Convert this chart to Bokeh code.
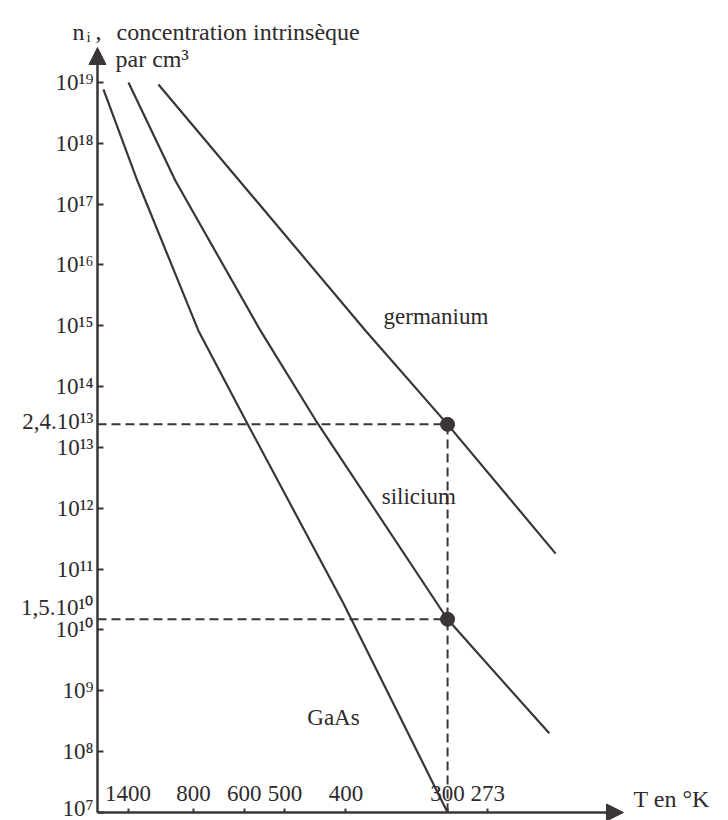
import math
from bokeh.plotting import figure
from bokeh.models import (LinearAxis, LogAxis, FixedTicker, CustomJSTickFormatter, Range1d,
                          Arrow, NormalHead, Label)
from bokeh.embed import file_html
from bokeh.resources import INLINE
from bokeh.core.properties import value

FONT = "Liberation Serif"
INK = "#3b3538"
TXT = "#2e2a2c"

# ---- data ----
T_ticks = [1400, 800, 600, 500, 400, 300, 273]           # x tick labels, K
n_ticks = [1e7, 1e8, 1e9, 1e10, 1e11, 1e12, 1e13, 1e14, 1e15, 1e16, 1e17, 1e18, 1e19]
marked_T = 300
marked_n = [2.4e13, 1.5e10]
marked_labels = ["2,4.10¹³", "1,5.10¹⁰"]

ge_T = [1038, 376, 300, 237]
ge_n = [9.3e18, 8.4e14, 2.4e13, 1.8e11]
si_T = [1393, 906, 556, 444, 300, 240]
si_n = [1.0e19, 2.4e17, 8.4e14, 2.8e13, 1.5e10, 2.0e8]
gaas_T = [1950, 1263, 775, 596, 403, 300]
gaas_n = [7.7e18, 2.4e17, 8.4e14, 2.8e13, 2.7e10, 1.0e7]

curve_names = ["germanium", "silicium", "GaAs"]
name_T = [356, 358, 458]
name_n = [1.4e15, 1.55e12, 3.6e8]

# x axis is 1000/T
inv = lambda ts: [1000.0 / t for t in ts]

# frame = whole canvas; axes are placed inside with fixed_location
XA = 0.464                 # position of the vertical axis (1000/T)
XS, XE = -0.331, 5.636     # visible x range
X_TIP = 4.775              # tip of the horizontal arrow
YA = 1e7                   # position of the horizontal axis
YS, YE = 10 ** 6.868, 10 ** 20.348
Y_TIP = 10 ** 19.575

p = figure(width=728, height=820, x_range=Range1d(XS, XE), y_range=Range1d(YS, YE),
           y_axis_type="log", x_axis_location=None, y_axis_location=None,
           output_backend="svg", toolbar_location=None,
           min_border_left=0, min_border_right=0, min_border_top=0, min_border_bottom=0)
p.outline_line_color = None
p.grid.visible = False
p.background_fill_color = "white"

# y axis
ya = LogAxis(ticker=FixedTicker(ticks=n_ticks, minor_ticks=[]), fixed_location=XA)
ya.formatter = CustomJSTickFormatter(code="""
const sup = "⁰¹²³⁴⁵⁶⁷⁸⁹";
const e = Math.round(Math.log10(tick));
return "10" + String(e).split("").map(d => sup[parseInt(d)]).join("");
""")
ya.axis_line_color = None
ya.major_tick_in = 6
ya.major_tick_out = 0
ya.major_tick_line_width = 2
ya.major_tick_line_color = INK
ya.major_label_standoff = 4
ya.major_label_text_font = FONT
ya.major_label_text_font_size = "23px"
ya.major_label_text_color = TXT
p.add_layout(ya, "left")

# x axis (labels inside, above the axis line)
xa = LinearAxis(ticker=FixedTicker(ticks=inv(T_ticks), minor_ticks=[]),
                formatter=CustomJSTickFormatter(code="return String(Math.round(1000/tick));"),
                fixed_location=YA)
xa.axis_line_color = None
xa.major_tick_in = 0
xa.major_tick_out = 4
xa.major_tick_line_width = 2
xa.major_tick_line_color = INK
xa.major_label_standoff = 7
xa.major_label_text_font = FONT
xa.major_label_text_font_size = "23px"
xa.major_label_text_color = TXT
p.add_layout(xa, "above")

# axis arrows
p.add_layout(Arrow(end=NormalHead(size=17, fill_color=INK, line_color=INK),
                   x_start=XA, y_start=YA, x_end=XA, y_end=Y_TIP,
                   line_width=2.5, line_color=INK))
p.add_layout(Arrow(end=NormalHead(size=17, fill_color=INK, line_color=INK),
                   x_start=XA, y_start=YA, x_end=X_TIP, y_end=YA,
                   line_width=2.5, line_color=INK))

# curves
for ts, ns in [(ge_T, ge_n), (si_T, si_n), (gaas_T, gaas_n)]:
    p.line(x=inv(ts), y=ns, line_width=2.2, line_color=INK)

# dashed guides and marked points
xm = 1000.0 / marked_T
p.segment(x0=[XA, XA, xm], y0=[marked_n[0], marked_n[1], YA],
          x1=[xm, xm, xm], y1=[marked_n[0], marked_n[1], marked_n[0]],
          line_dash="9 5", line_width=2, line_color=INK)
p.scatter(x=[xm, xm], y=marked_n, size=14, color=INK)

# labels of the marked values on the vertical axis
for nv, lb, off in zip(marked_n, marked_labels, [3, 12]):
    p.add_layout(Label(x=XA, y=nv, x_offset=-4, y_offset=off, text=lb,
                       text_font=FONT, text_font_size="23px", text_color=TXT,
                       text_align="right", text_baseline="middle"))

# curve names
p.text(x=inv(name_T), y=name_n, text=curve_names, text_font=value(FONT),
       text_font_size="23px", text_baseline="middle", text_align="left", text_color=TXT)

# header and axis title (screen units from the bottom-left of the canvas)
def lab(txt, x, y, size="24px"):
    p.add_layout(Label(x=x, y=y, x_units="screen", y_units="screen", text=txt,
                       text_font=FONT, text_font_size=size, text_color=TXT,
                       text_baseline="alphabetic"))

lab("n", 72, 789)
lab("i", 86, 784, "15px")
lab(",", 95, 789)
lab("concentration intrinsèque", 116, 789)
lab("par cm³", 115, 762)
lab("T en °K", 633, 22)

with open("out.html", "w", encoding="utf-8") as f:
    f.write(file_html(p, INLINE))
